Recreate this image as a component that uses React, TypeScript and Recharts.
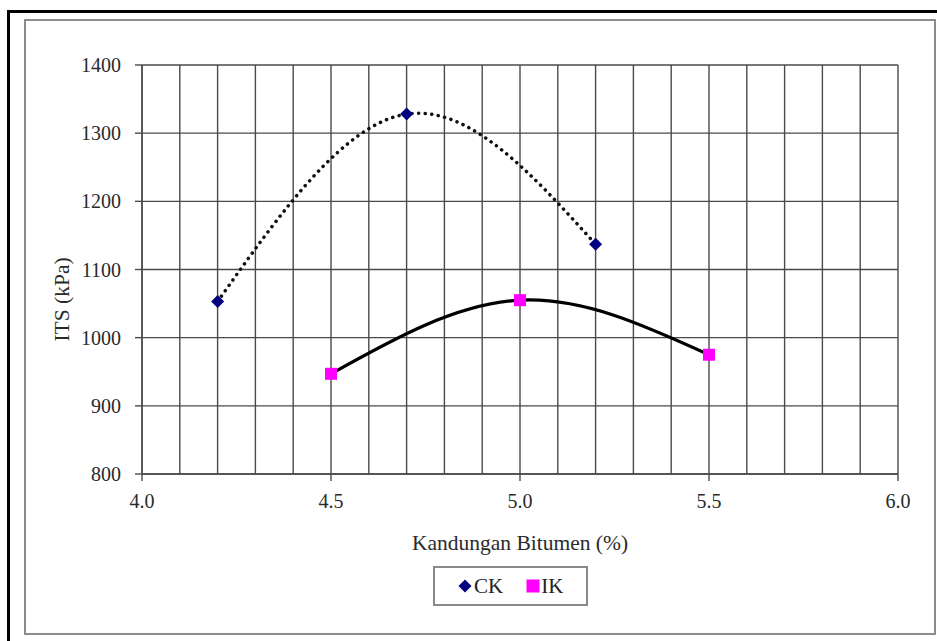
import React from 'react';
import { LineChart, Line, XAxis, YAxis, CartesianGrid, Legend, Label } from 'recharts';

const ckBitumen = [4.2, 4.7, 5.2];
const ckIts = [1053, 1328, 1137];
const ikBitumen = [4.5, 5.0, 5.5];
const ikIts = [947, 1055, 975];
const xTicks = [4.0, 4.5, 5.0, 5.5, 6.0];
const xGridTicks = [4.0, 4.1, 4.2, 4.3, 4.4, 4.5, 4.6, 4.7, 4.8, 4.9, 5.0, 5.1, 5.2, 5.3, 5.4, 5.5, 5.6, 5.7, 5.8, 5.9, 6.0];
const yTicks = [800, 900, 1000, 1100, 1200, 1300, 1400];

const ckData = ckBitumen.map((x, i) => ({ x, y: ckIts[i] }));
const ikData = ikBitumen.map((x, i) => ({ x, y: ikIts[i] }));

const FONT = 'Liberation Serif, DejaVu Serif, serif';
const GRID = '#4a4a4a';
const TICK_FS = 20;
const LABEL_FS = 21.5;

const Diamond = (props: any) => {
  const { cx, cy } = props;
  if (cx == null || cy == null) return null;
  const r = 6.5;
  return <path d={`M${cx},${cy - r}L${cx + r},${cy}L${cx},${cy + r}L${cx - r},${cy}Z`} fill="#000080" />;
};

const Square = (props: any) => {
  const { cx, cy } = props;
  if (cx == null || cy == null) return null;
  const r = 6;
  return <rect x={cx - r} y={cy - r} width={2 * r} height={2 * r} fill="#FF00FF" />;
};

const LegendBox = () => (
  <div
    style={{
      width: 151,
      height: 36,
      border: '2px solid #8a8a8a',
      background: '#fff',
      display: 'flex',
      alignItems: 'center',
      fontFamily: FONT,
      fontSize: 21,
      color: '#222',
      boxSizing: 'content-box',
    }}
  >
    <svg width={14} height={14} style={{ marginLeft: 23 }}>
      <path d="M7,0.5L13.5,7L7,13.5L0.5,7Z" fill="#000080" />
    </svg>
    <span style={{ marginLeft: 2 }}>CK</span>
    <svg width={14} height={14} style={{ marginLeft: 23 }}>
      <rect x={0.5} y={0.5} width={13} height={13} fill="#FF00FF" />
    </svg>
    <span style={{ marginLeft: 1 }}>IK</span>
  </div>
);

export default function App() {
  return (
    <div style={{ position: 'absolute', left: 0, top: 0, width: 937, height: 641, background: '#fff', overflow: 'hidden', fontFamily: FONT }}>
      <div style={{ position: 'absolute', left: 7, top: 10, width: 940, height: 640, borderLeft: '3px solid #000', borderTop: '3px solid #000' }} />
      <div style={{ position: 'absolute', left: 24, top: 19, width: 908, height: 612, border: '2px solid #8c8c8c' }} />
      <div style={{ position: 'absolute', left: 0, top: 0 }}>
        <LineChart width={937} height={641} margin={{ top: 65, right: 39, left: 0, bottom: 35 }} style={{ fontFamily: FONT }}>
          <CartesianGrid stroke={GRID} strokeWidth={1.4} xAxisId="grid" />
          <XAxis
            xAxisId="grid"
            type="number"
            dataKey="x"
            domain={[4.0, 6.0]}
            ticks={xGridTicks}
            hide
            allowDataOverflow
          />
          <XAxis
            type="number"
            dataKey="x"
            domain={[4.0, 6.0]}
            ticks={xTicks}
            tickFormatter={(v: number) => v.toFixed(1)}
            tickSize={7}
            tickMargin={13}
            height={92}
            stroke={GRID}
            strokeWidth={1.4}
            tick={{ fill: '#2a2a2a', fontSize: TICK_FS, fontFamily: FONT }}
            allowDataOverflow
          >
            <Label
              content={(p: any) => {
                const vb = p.viewBox;
                return (
                  <text x={vb.x + vb.width / 2} y={vb.y + 76} textAnchor="middle" fill="#2a2a2a" fontSize={LABEL_FS} style={{ fontFamily: FONT }}>
                    Kandungan Bitumen (%)
                  </text>
                );
              }}
            />
          </XAxis>
          <YAxis
            type="number"
            dataKey="y"
            domain={[800, 1400]}
            ticks={yTicks}
            width={142}
            tickSize={7}
            tickMargin={14}
            stroke={GRID}
            strokeWidth={1.4}
            tick={{ fill: '#2a2a2a', fontSize: TICK_FS, fontFamily: FONT }}
            allowDataOverflow
          >
            <Label
              content={(p: any) => {
                const vb = p.viewBox;
                const cx = vb.x + 69;
                const cy = vb.y + vb.height / 2 + 30;
                return (
                  <text x={cx} y={cy} transform={`rotate(-90 ${cx} ${cy})`} textAnchor="middle" fill="#2a2a2a" fontSize={LABEL_FS} style={{ fontFamily: FONT }}>
                    ITS (kPa)
                  </text>
                );
              }}
            />
          </YAxis>
          <Legend
            verticalAlign="bottom"
            content={<LegendBox />}
            wrapperStyle={{ left: 433, bottom: 35, width: 155, height: 40 }}
          />
          <Line
            data={ckData}
            dataKey="y"
            name="CK"
            type="natural"
            stroke="#111"
            strokeWidth={3.5}
            strokeDasharray="0.1 6.5"
            strokeLinecap="round"
            dot={<Diamond />}
            activeDot={false}
            isAnimationActive={false}
          />
          <Line
            data={ikData}
            dataKey="y"
            name="IK"
            type="natural"
            stroke="#000"
            strokeWidth={3.2}
            dot={<Square />}
            activeDot={false}
            isAnimationActive={false}
          />
        </LineChart>
      </div>
    </div>
  );
}
